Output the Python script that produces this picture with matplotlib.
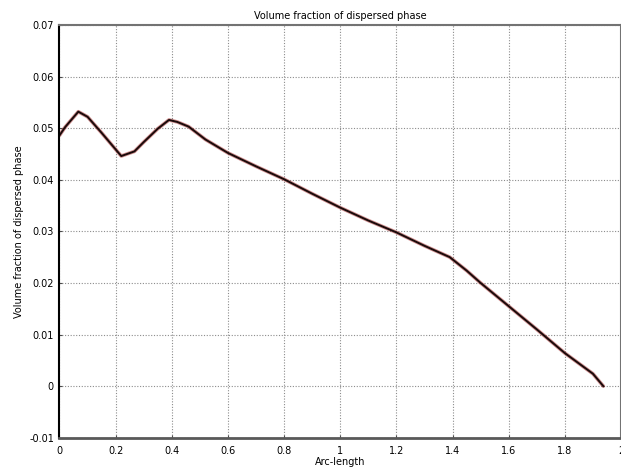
'''
Volume fraction of dispersed phase along the arc-length.
'''

import matplotlib
matplotlib.use('Agg')
from matplotlib import pyplot as plt


arc_length = [0.0, 0.02, 0.067, 0.1, 0.15, 0.22, 0.267, 0.3, 0.35, 0.39,
              0.42, 0.46, 0.52, 0.6, 0.7, 0.8, 0.9, 1.0, 1.1, 1.2, 1.3,
              1.39, 1.45, 1.5, 1.6, 1.7, 1.8, 1.86, 1.9, 1.937]
vol_frac   = [0.0486, 0.0502, 0.0532, 0.0522, 0.0491, 0.0446, 0.0455, 0.0473, 0.0499, 0.0516,
              0.0512, 0.0503, 0.0478, 0.0452, 0.0426, 0.0401, 0.0373, 0.0346, 0.0321, 0.0298, 0.0272,
              0.0250, 0.0224, 0.0200, 0.0155, 0.0110, 0.0064, 0.0040, 0.0024, 0.0000]
xticks     = [0, 0.2, 0.4, 0.6, 0.8, 1, 1.2, 1.4, 1.6, 1.8, 2]
yticks     = [-0.01, 0, 0.01, 0.02, 0.03, 0.04, 0.05, 0.06, 0.07]
ticklabels_x = ['0', '0.2', '0.4', '0.6', '0.8', '1', '1.2', '1.4', '1.6', '1.8', '2']
ticklabels_y = ['-0.01', '0', '0.01', '0.02', '0.03', '0.04', '0.05', '0.06', '0.07']


plt.rcParams['font.family'] = 'DejaVu Sans'
fig = plt.figure(figsize=(6.21, 4.69), dpi=100)
ax  = fig.add_axes([0.0958, 0.0667, 0.9042, 0.88])

# reddish halo under the black trace
ax.plot(arc_length, vol_frac, color='#a02020', lw=2.6, alpha=0.5, solid_capstyle='round')
ax.plot(arc_length, vol_frac, color='#1a0a0a', lw=1.4)

ax.set_xlim(0, 2)
ax.set_ylim(-0.01, 0.07)
ax.set_xticks(xticks)
ax.set_xticklabels(ticklabels_x)
ax.set_yticks(yticks)
ax.set_yticklabels(ticklabels_y)
ax.tick_params(axis='both', labelsize=7, length=2, direction='in', color='0.3')
ax.tick_params(axis='x', pad=6)
ax.tick_params(axis='y', pad=4)

ax.grid(True, ls=(0, (1, 1.5)), color='0.55', lw=0.8)
ax.set_axisbelow(True)

ax.spines['left'].set_color('black')
ax.spines['left'].set_linewidth(1.5)
ax.spines['bottom'].set_color('0.35')
ax.spines['bottom'].set_linewidth(2.0)
ax.spines['top'].set_color('0.45')
ax.spines['top'].set_linewidth(1.5)
ax.spines['right'].set_color('0.45')
ax.spines['right'].set_linewidth(1.5)

ax.set_title('Volume fraction of dispersed phase', fontsize=7, pad=4)
ax.set_xlabel('Arc-length', fontsize=7, labelpad=1)
ax.set_ylabel('Volume fraction of dispersed phase', fontsize=7, labelpad=4)

plt.savefig('out.png', dpi=100)
